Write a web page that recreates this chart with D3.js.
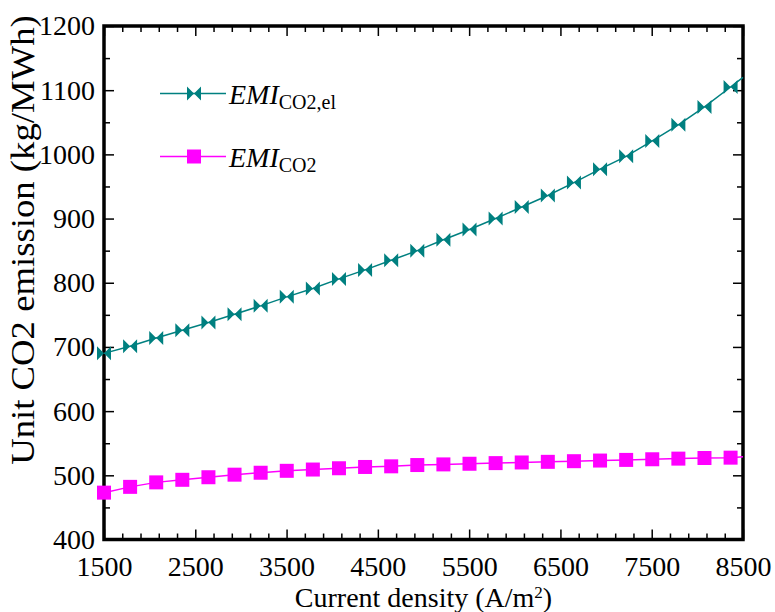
<!DOCTYPE html>
<html>
<head>
<meta charset="utf-8">
<script src="https://cdn.jsdelivr.net/npm/d3@7"></script>
<style>
  html, body { margin: 0; padding: 0; background: #fff; }
  svg { display: block; font-family: 'Liberation Serif', 'Times New Roman', serif; }
</style>
</head>
<body>
<div id="chart"></div>
<script>
// current density (A/m2) at the marker points
const currentDensity = [1500, 1786, 2072, 2358, 2644, 2930, 3216, 3502, 3788, 4074, 4360, 4646, 4932,
  5218, 5504, 5790, 6076, 6362, 6648, 6934, 7220, 7506, 7792, 8078, 8364];
// EMI_CO2,el (kg/MWh)
const emiCo2El = [690, 701, 714, 726, 738, 751, 764, 778, 791, 806, 820, 835, 850,
  867, 883, 900, 918, 936, 956, 977, 997, 1021, 1046, 1074, 1105];
// EMI_CO2 (kg/MWh)
const emiCo2 = [473, 482, 489, 493, 497, 501, 504, 507, 509, 511, 513, 514, 516,
  517, 518, 519, 520, 521, 522, 523, 524, 525, 526, 527, 527.5];
// line end at the right frame (no marker there)
const endDensity = 8500;
const endEmiCo2El = 1120;
const endEmiCo2 = 529;

const xTicks = [1500, 2500, 3500, 4500, 5500, 6500, 7500, 8500];
const yTicks = [400, 500, 600, 700, 800, 900, 1000, 1100, 1200];

const width = 775, height = 612;
const margin = { top: 26, right: 32, bottom: 72.5, left: 104 };

const x = d3.scaleLinear()
  .domain([1500, 8500])
  .range([margin.left, width - margin.right]);
const y = d3.scaleLinear()
  .domain([400, 1200])
  .range([height - margin.bottom, margin.top]);

const svg = d3.select('#chart').append('svg')
  .attr('width', width)
  .attr('height', height);

const fontSize = 28;
const serif = "'Liberation Serif', 'Times New Roman', serif";

// minor ticks, every 200 on x and every 50 on y
const xMinor = d3.range(1700, 8500, 200).filter(v => !xTicks.includes(v));
const yMinor = d3.range(450, 1200, 100);

const styleAxis = g => g
  .attr('font-family', serif)
  .attr('font-size', fontSize)
  .call(g => g.select('.domain').remove())
  .call(g => g.selectAll('.tick line').attr('stroke', '#000').attr('stroke-width', 1.5))
  .call(g => g.selectAll('.tick text').attr('fill', '#000'));

// bottom
svg.append('g')
  .attr('transform', `translate(0,${y(400)})`)
  .call(d3.axisBottom(x).tickValues(xTicks).tickSize(-10).tickPadding(17).tickFormat(d3.format('d')))
  .call(styleAxis);
svg.append('g')
  .attr('transform', `translate(0,${y(400)})`)
  .call(d3.axisBottom(x).tickValues(xMinor).tickSize(-6).tickFormat(''))
  .call(styleAxis);
// top
svg.append('g')
  .attr('transform', `translate(0,${y(1200)})`)
  .call(d3.axisTop(x).tickValues(xTicks).tickSize(-10).tickFormat(''))
  .call(styleAxis);
svg.append('g')
  .attr('transform', `translate(0,${y(1200)})`)
  .call(d3.axisTop(x).tickValues(xMinor).tickSize(-6).tickFormat(''))
  .call(styleAxis);
// left
svg.append('g')
  .attr('transform', `translate(${x(1500)},0)`)
  .call(d3.axisLeft(y).tickValues(yTicks).tickSize(-10).tickPadding(9).tickFormat(d3.format('d')))
  .call(styleAxis);
svg.append('g')
  .attr('transform', `translate(${x(1500)},0)`)
  .call(d3.axisLeft(y).tickValues(yMinor).tickSize(-6).tickFormat(''))
  .call(styleAxis);
// right
svg.append('g')
  .attr('transform', `translate(${x(8500)},0)`)
  .call(d3.axisRight(y).tickValues(yTicks).tickSize(-10).tickFormat(''))
  .call(styleAxis);
svg.append('g')
  .attr('transform', `translate(${x(8500)},0)`)
  .call(d3.axisRight(y).tickValues(yMinor).tickSize(-6).tickFormat(''))
  .call(styleAxis);

// frame
svg.append('rect')
  .attr('x', x(1500))
  .attr('y', y(1200))
  .attr('width', x(8500) - x(1500))
  .attr('height', y(400) - y(1200))
  .attr('fill', 'none')
  .attr('stroke', '#000')
  .attr('stroke-width', 3.5);

// series
const teal = '#008080', magenta = '#ff00ff';
const bowtie = 'M-7,-7L0,0L-7,7ZM7,-7L0,0L7,7Z';
const square = 'M-7,-7H7V7H-7Z';

const series = [
  { name: 'el', values: emiCo2El, end: endEmiCo2El, color: teal, shape: bowtie },
  { name: 'co2', values: emiCo2, end: endEmiCo2, color: magenta, shape: square }
];

const line = d3.line().x(d => x(d[0])).y(d => y(d[1]));

series.forEach(s => {
  const pts = currentDensity.map((c, i) => [c, s.values[i]]).concat([[endDensity, s.end]]);
  svg.append('path')
    .datum(pts)
    .attr('fill', 'none')
    .attr('stroke', s.color)
    .attr('stroke-width', 1.5)
    .attr('d', line);
  svg.append('g')
    .selectAll('path')
    .data(currentDensity.map((c, i) => [c, s.values[i]]))
    .join('path')
    .attr('transform', d => `translate(${x(d[0])},${y(d[1])})`)
    .attr('d', s.shape)
    .attr('fill', s.color);
});

// legend
const legend = [
  { sub: 'CO2,el', color: teal, shape: bowtie, y: 93.5, base: 103.5 },
  { sub: 'CO2', color: magenta, shape: square, y: 156.5, base: 166.5 }
];
const lg = svg.append('g');
legend.forEach(l => {
  lg.append('line')
    .attr('x1', 160).attr('x2', 226)
    .attr('y1', l.y).attr('y2', l.y)
    .attr('stroke', l.color).attr('stroke-width', 1.5);
  lg.append('path')
    .attr('transform', `translate(194,${l.y})`)
    .attr('d', l.shape)
    .attr('fill', l.color);
  const t = lg.append('text')
    .attr('x', 229)
    .attr('y', l.base)
    .style('font-size', '28px');
  t.append('tspan').style('font-style', 'italic').text('EMI');
  t.append('tspan').attr('dy', 5).style('font-size', '20px').text(l.sub);
});

// axis titles
const xt = svg.append('text')
  .attr('x', (x(1500) + x(8500)) / 2)
  .attr('y', 607)
  .attr('text-anchor', 'middle')
  .style('font-size', '28px');
xt.append('tspan').text('Current density (A/m');
xt.append('tspan').attr('dy', -9).style('font-size', '17px').text('2');
xt.append('tspan').attr('dy', 9).text(')');

svg.append('text')
  .attr('transform', 'translate(34,240) scale(1,1.08) rotate(-90)')
  .attr('text-anchor', 'middle')
  .style('font-size', '34px')
  .text('Unit CO2 emission (kg/MWh)');
</script>
</body>
</html>
